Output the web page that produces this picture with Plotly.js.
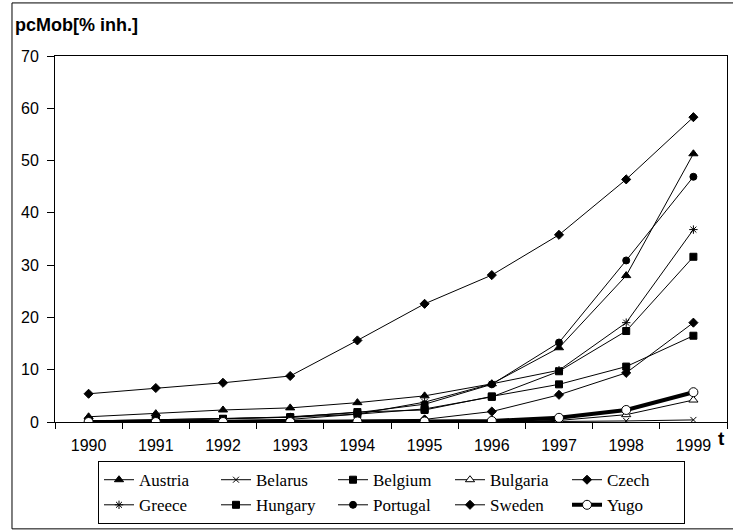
<!DOCTYPE html>
<html>
<head>
<meta charset="utf-8">
<script src="https://cdn.plot.ly/plotly-3.0.1.min.js"></script>
<style>html,body{margin:0;padding:0;background:#fff;}</style>
</head>
<body>
<div id="chart" style="width:733px;height:531px;"></div>
<script>
var years = ['1990','1991','1992','1993','1994','1995','1996','1997','1998','1999'];

var austria  = [1.0, 1.6, 2.3, 2.7, 3.7, 5.0, 7.3, 14.2, 28.0, 51.3];
var belarus  = [0, 0, 0, 0, 0, 0, 0, 0.1, 0.2, 0.4];
var belgium  = [0.2, 0.4, 0.6, 0.9, 1.5, 2.5, 4.8, 9.7, 17.4, 31.6];
var bulgaria = [0, 0, 0, 0, 0, 0, 0.1, 0.3, 1.4, 4.2];
var czech    = [0, 0, 0.1, 0.2, 0.3, 0.5, 2.0, 5.2, 9.4, 19.0];
var greece   = [0, 0, 0.3, 0.5, 1.5, 3.8, 7.3, 9.9, 19.0, 36.8];
var hungary  = [0.2, 0.4, 0.6, 0.9, 1.9, 2.3, 4.9, 7.2, 10.6, 16.5];
var portugal = [0.1, 0.2, 0.6, 1.0, 1.8, 3.4, 7.2, 15.2, 30.9, 46.9];
var sweden   = [5.4, 6.5, 7.5, 8.8, 15.6, 22.6, 28.1, 35.8, 46.4, 58.3];
var yugo     = [0, 0, 0, 0, 0.1, 0.1, 0.2, 0.8, 2.3, 5.7];

var names = ['Austria','Belarus','Belgium','Bulgaria','Czech','Greece','Hungary','Portugal','Sweden','Yugo'];
var series = [austria, belarus, belgium, bulgaria, czech, greece, hungary, portugal, sweden, yugo];
var symbols = ['triangle-up','x-thin-open','square','triangle-up','diamond','asterisk-open','square','circle','diamond','circle'];
var fills = ['#000','#000','#000','#fff','#000','#000','#000','#000','#000','#fff'];
var sizes = [8, 6, 7, 8, 7, 7, 7, 7, 7, 9];
var lineWidths = [1, 1, 1, 1, 1, 1, 1, 1, 1, 4];

var traces = names.map(function(n, i){
  return {
    type: 'scatter', mode: 'lines+markers', name: n,
    x: years, y: series[i],
    line: {color: '#000', width: lineWidths[i]},
    marker: {symbol: symbols[i], size: sizes[i], color: fills[i], line: {color: '#000', width: 1}}
  };
});

var layout = {
  width: 733, height: 531,
  margin: {l: 55, r: 6, t: 56, b: 109},
  paper_bgcolor: '#fff', plot_bgcolor: '#fff',
  font: {family: 'Arial, Liberation Sans, sans-serif', color: '#000'},
  showlegend: true,
  legend: {
    orientation: 'h', x: 0.064, y: -0.107, xanchor: 'left', yanchor: 'top',
    bordercolor: '#000', borderwidth: 1, bgcolor: '#fff',
    font: {family: 'Liberation Serif, Times New Roman, serif', size: 17, color: '#000'},
    entrywidth: 72, traceorder: 'normal'
  },
  xaxis: {
    type: 'category', range: [-0.5, 9.5], tickson: 'boundaries',
    ticks: 'outside', ticklen: 6, tickcolor: '#000', tickwidth: 1,
    ticklabelstandoff: 9,
    showline: true, linecolor: '#000', linewidth: 1, mirror: true,
    showgrid: false, zeroline: false,
    tickfont: {family: 'Arial, Liberation Sans, sans-serif', size: 16, color: '#000'}
  },
  yaxis: {
    range: [0, 70], dtick: 10, tick0: 0,
    ticks: 'outside', ticklen: 7, tickcolor: '#000', tickwidth: 1,
    ticklabelstandoff: 5,
    showline: true, linecolor: '#000', linewidth: 1, mirror: true,
    showgrid: false, zeroline: false,
    tickfont: {family: 'Arial, Liberation Sans, sans-serif', size: 16, color: '#000'}
  },
  annotations: [
    {text: '<b>pcMob[% inh.]</b>', xref: 'paper', yref: 'paper',
     x: -0.062, y: 1.085, xanchor: 'left', yanchor: 'middle', showarrow: false,
     font: {family: 'Arial, Liberation Sans, sans-serif', size: 18, color: '#000'}},
    {text: '<b>t</b>', xref: 'paper', yref: 'paper',
     x: 1.0, y: -0.045, xanchor: 'right', yanchor: 'middle', showarrow: false,
     font: {family: 'Arial, Liberation Sans, sans-serif', size: 19, color: '#000'}}
  ],
  shapes: [
    {type: 'rect', xref: 'paper', yref: 'paper',
     x0: -0.064, x1: 1.06, y0: -0.292, y1: 1.145,
     line: {color: '#000', width: 1}, fillcolor: 'rgba(0,0,0,0)', layer: 'below'}
  ]
};

Plotly.newPlot('chart', traces, layout, {displayModeBar: false, staticPlot: true});
</script>
</body>
</html>
